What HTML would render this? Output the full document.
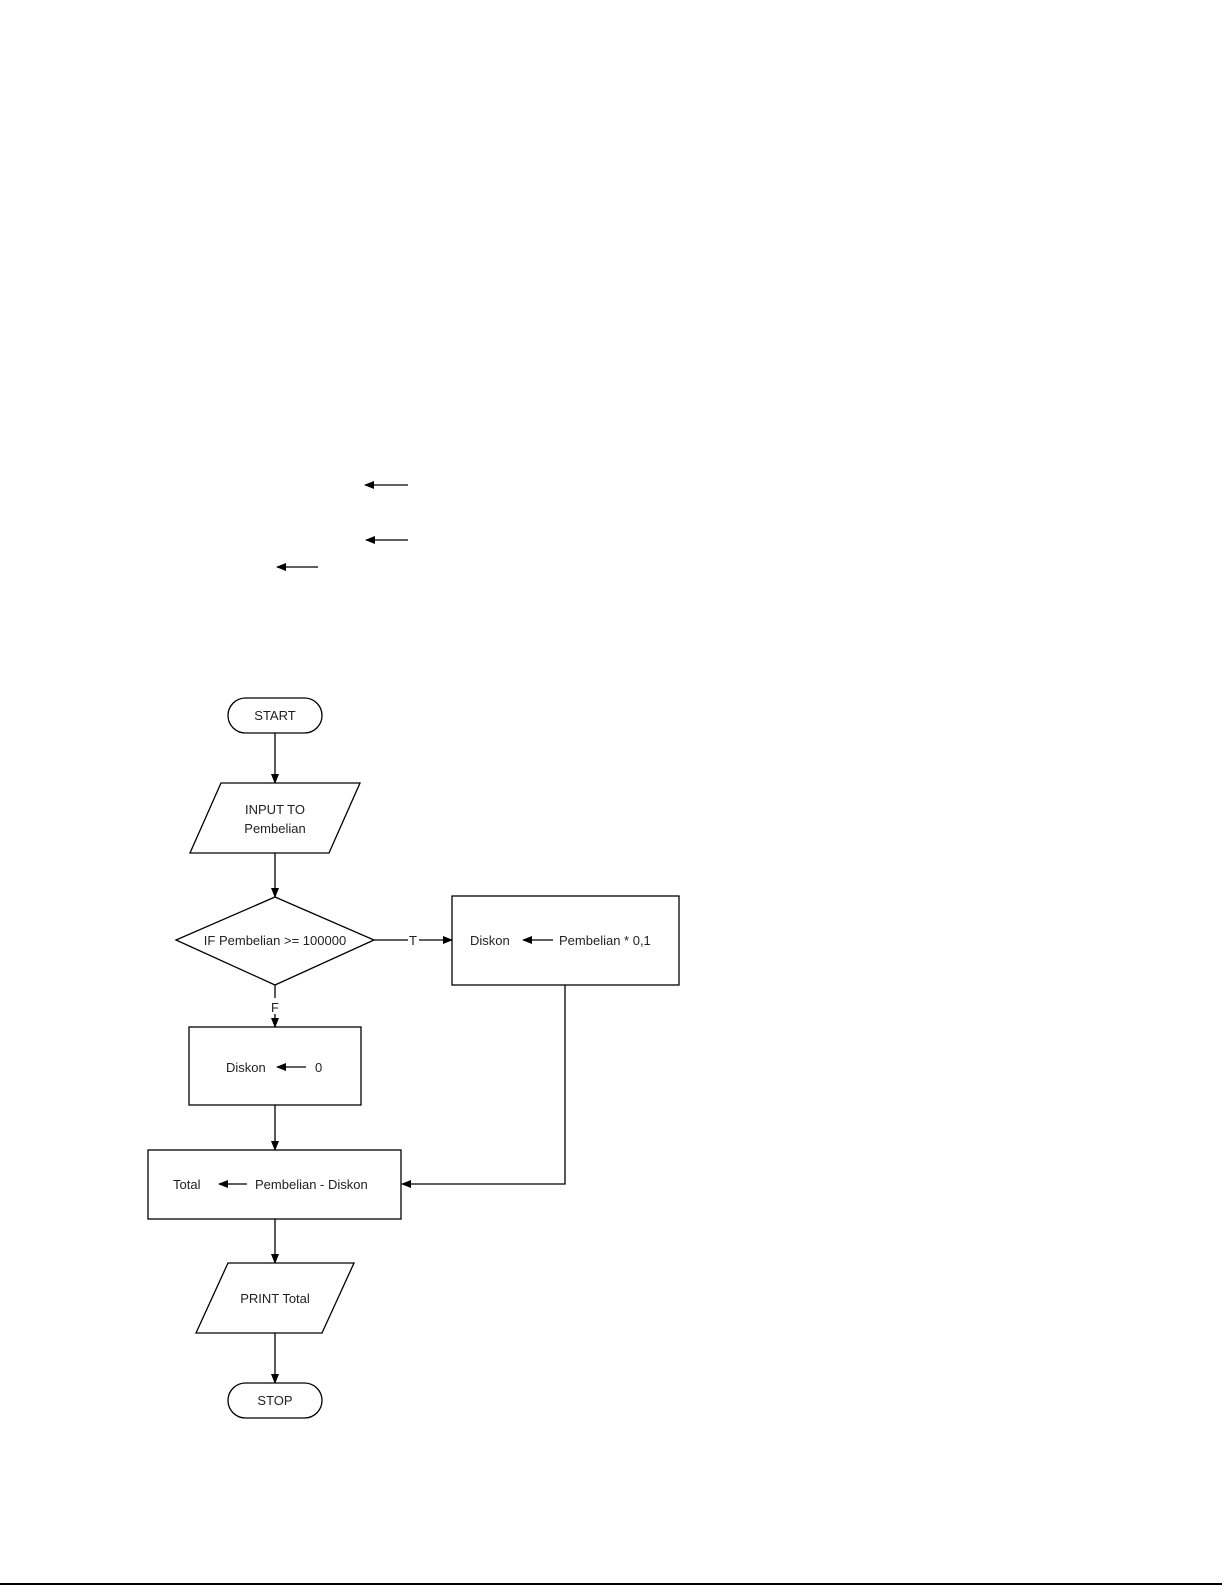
<!DOCTYPE html>
<html><head><meta charset="utf-8"><style>
html,body{margin:0;padding:0;background:#fff;}
svg{display:block;}
text{font-family:"Liberation Sans",sans-serif;font-size:13px;fill:#222;}
</style></head><body>
<svg width="1225" height="1585" viewBox="0 0 1225 1585" xmlns="http://www.w3.org/2000/svg">
<defs>
<marker id="a" markerWidth="10" markerHeight="8" refX="9" refY="4" orient="auto" markerUnits="userSpaceOnUse">
<path d="M0,0 L10,4 L0,8 z" fill="#000"/></marker>
</defs>
<g stroke="#000" stroke-width="1.3" fill="none">
<!-- stray arrows -->
<line x1="408" y1="485" x2="365" y2="485" marker-end="url(#a)"/>
<line x1="408" y1="540" x2="366" y2="540" marker-end="url(#a)"/>
<line x1="318" y1="567" x2="277" y2="567" marker-end="url(#a)"/>
<!-- START -->
<rect x="228" y="698" width="94" height="35" rx="17.5" fill="#fff"/>
<line x1="275" y1="733" x2="275" y2="783" marker-end="url(#a)"/>
<polygon points="221,783 360,783 329,853 190,853" fill="#fff"/>
<line x1="275" y1="853" x2="275" y2="897" marker-end="url(#a)"/>
<polygon points="275,897 374,940 275,985 176,940" fill="#fff"/>
<line x1="374" y1="940" x2="408" y2="940"/>
<line x1="419" y1="940" x2="452" y2="940" marker-end="url(#a)"/>
<rect x="452" y="896" width="227" height="89" fill="#fff"/>
<line x1="553" y1="940" x2="523" y2="940" marker-end="url(#a)"/>
<line x1="275" y1="985" x2="275" y2="998"/>
<line x1="275" y1="1014" x2="275" y2="1027" marker-end="url(#a)"/>
<rect x="189" y="1027" width="172" height="78" fill="#fff"/>
<line x1="306" y1="1067" x2="277" y2="1067" marker-end="url(#a)"/>
<line x1="275" y1="1105" x2="275" y2="1150" marker-end="url(#a)"/>
<rect x="148" y="1150" width="253" height="69" fill="#fff"/>
<line x1="247" y1="1184" x2="219" y2="1184" marker-end="url(#a)"/>
<polyline points="565,985 565,1184 402,1184" marker-end="url(#a)"/>
<line x1="275" y1="1219" x2="275" y2="1263" marker-end="url(#a)"/>
<polygon points="228,1263 354,1263 322,1333 196,1333" fill="#fff"/>
<line x1="275" y1="1333" x2="275" y2="1383" marker-end="url(#a)"/>
<rect x="228" y="1383" width="94" height="35" rx="17.5" fill="#fff"/>
<line x1="0" y1="1584" x2="1222" y2="1584" stroke-width="2"/>
</g>
<text x="275" y="720" text-anchor="middle">START</text>
<text x="275" y="814" text-anchor="middle">INPUT TO</text>
<text x="275" y="833" text-anchor="middle">Pembelian</text>
<text x="275" y="945" text-anchor="middle">IF Pembelian &gt;= 100000</text>
<text x="413" y="945" text-anchor="middle">T</text>
<text x="470" y="945">Diskon</text>
<text x="559" y="945">Pembelian * 0,1</text>
<text x="275" y="1012" text-anchor="middle">F</text>
<text x="226" y="1072">Diskon</text>
<text x="315" y="1072">0</text>
<text x="173" y="1189">Total</text>
<text x="255" y="1189">Pembelian - Diskon</text>
<text x="275" y="1303" text-anchor="middle">PRINT Total</text>
<text x="275" y="1405" text-anchor="middle">STOP</text>
</svg>
</body></html>
